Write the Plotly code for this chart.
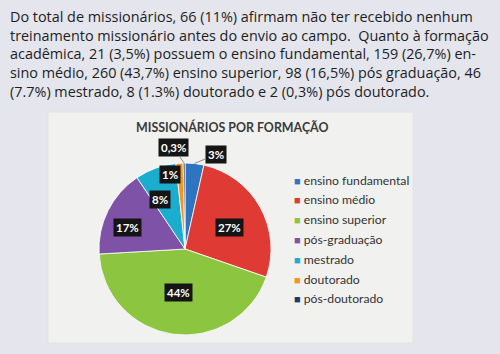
import math
import plotly.graph_objects as go

categories = ["ensino fundamental", "ensino médio", "ensino superior", "pós-graduação",
              "mestrado", "doutorado", "pós-doutorado"]
counts = [21, 159, 260, 98, 46, 8, 2]
pct_labels = ["3%", "27%", "44%", "17%", "8%", "1%", "0,3%"]
title_text = "MISSIONÁRIOS POR FORMAÇÃO"
paragraph_lines = [
    "Do total de missionários, 66 (11%) afirmam não ter recebido nenhum",
    "treinamento missionário antes do envio ao campo.  Quanto à formação",
    "acadêmica, 21 (3,5%) possuem o ensino fundamental, 159 (26,7%) en-",
    "sino médio, 260 (43,7%) ensino superior, 98 (16,5%) pós graduação, 46",
    "(7.7%) mestrado, 8 (1.3%) doutorado e 2 (0,3%) pós doutorado.",
]

# styles
colors = ["#2F74C0", "#E03A35", "#8CC540", "#7E52A6", "#1AADCE", "#F7941F", "#1F3A66"]
W, H = 500, 354
cx, cy, R = 185, 249, 86
# (radial fraction, angle shift deg, outside offset px) per label
label_style = [(1.0, 0, (21, -9)), (0.58, 3, None), (0.51, 1, None), (0.71, -6, None),
               (0.64, -7, None), (0.88, -8, None), (1.0, 0, (-11, -16))]

fig = go.Figure()
fig.add_trace(go.Pie(
    labels=categories, values=counts, sort=False, direction="clockwise", rotation=0,
    marker=dict(colors=colors, line=dict(color="white", width=0.8)),
    textinfo="none", hoverinfo="label+percent", showlegend=False,
    domain=dict(x=[(cx - R) / W, (cx + R) / W], y=[1 - (cy + R) / H, 1 - (cy - R) / H]),
))

shapes = [dict(type="rect", xref="paper", yref="paper",
               x0=48 / W, x1=413 / W, y0=1 - 343 / H, y1=1 - 112 / H,
               fillcolor="#F1F1F0", line=dict(color="#E2E3E3", width=1), layer="below")]

annotations = [dict(
    text="<br>".join(paragraph_lines), xref="paper", yref="paper", x=8 / W, y=1 - 5 / H,
    xanchor="left", yanchor="top", align="left", showarrow=False,
    font=dict(family="Open Sans", size=14.4, color="#1E1E1E"))]

annotations.append(dict(
    text="<b>" + title_text + "</b>", xref="paper", yref="paper", x=232 / W, y=1 - 127 / H,
    xanchor="center", yanchor="middle", showarrow=False,
    font=dict(family="Lato", size=12.4, color="#3A3A3A")))

total = sum(counts)
cum = 0
for i, (v, lab) in enumerate(zip(counts, pct_labels)):
    mid = (cum + v / 2) / total * 360
    cum += v
    frac, shift, off = label_style[i]
    ang = math.radians(mid + shift)
    px = cx + R * frac * math.sin(ang)
    py = cy - R * frac * math.cos(ang)
    ann = dict(text="<b>" + lab + "</b>", xref="paper", yref="paper",
               x=px / W, y=1 - py / H, bgcolor="#151515", borderpad=2,
               font=dict(family="Lato", size=11.5, color="white"))
    if off is None:
        ann.update(showarrow=False, xanchor="center", yanchor="middle")
    else:
        ann.update(showarrow=True, arrowhead=0, arrowwidth=1, arrowcolor="#8A8A8A",
                   ax=off[0], ay=off[1], standoff=0)
    annotations.append(ann)

for i, (cat, col) in enumerate(zip(categories, colors)):
    annotations.append(dict(
        text='<span style="color:%s;font-size:11px">■</span> %s' % (col, cat),
        xref="paper", yref="paper", x=292 / W, y=1 - (180 + i * 19.8) / H,
        xanchor="left", yanchor="middle", showarrow=False,
        font=dict(family="Lato", size=12.2, color="#333333")))

fig.update_layout(
    width=W, height=H, margin=dict(l=0, r=0, t=0, b=0),
    paper_bgcolor="#E4E5ED", plot_bgcolor="#E4E5ED",
    shapes=shapes, annotations=annotations, showlegend=False,
)
fig.write_html("out.html")
